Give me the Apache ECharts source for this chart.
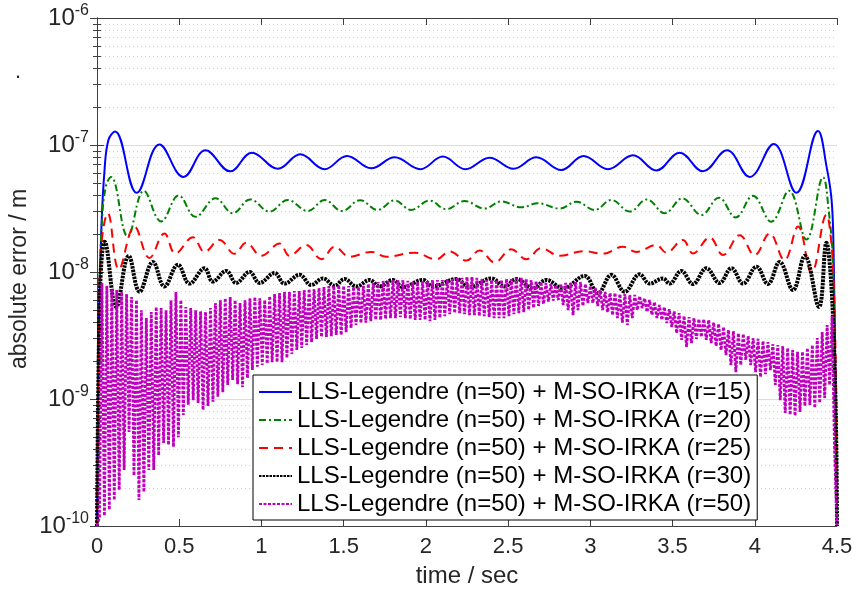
<!DOCTYPE html>
<html><head><meta charset="utf-8">
<script src="https://cdn.jsdelivr.net/npm/echarts@6/dist/echarts.min.js"></script>
<style>html,body{margin:0;padding:0;background:#fff}#c{width:856px;height:592px}</style>
</head><body><div id="c"></div>
<script>
const F = "'Liberation Sans', Arial, Helvetica, sans-serif";
const seriesNames = [
  'LLS-Legendre (n=50) + M-SO-IRKA (r=15)',
  'LLS-Legendre (n=50) + M-SO-IRKA (r=20)',
  'LLS-Legendre (n=50) + M-SO-IRKA (r=25)',
  'LLS-Legendre (n=50) + M-SO-IRKA (r=30)',
  'LLS-Legendre (n=50) + M-SO-IRKA (r=50)'
];
const xMin = 0, xMax = 4.5, xStep = 0.5;
const yMin = 1e-10, yMax = 1e-6;

const blueData = [[0,1e-10],[0.01,3e-9],[0.026,2.1e-8],[0.046,6.4e-8],[0.07,1.1e-7],[0.11,1.28e-7],
  [0.242,4.2e-8],[0.38,1.01e-7],[0.526,5.6e-8],[0.66,9.1e-8],[0.81,6.2e-8],[0.942,8.7e-8],[1.10,6.5e-8],
  [1.236,8.45e-8],[1.384,6.45e-8],[1.52,8.2e-8],[1.668,6.55e-8],[1.81,8.0e-8],[1.966,6.45e-8],[2.103,8.1e-8],
  [2.24,6.45e-8],[2.387,7.95e-8],[2.533,6.5e-8],[2.672,8.0e-8],[2.823,6.35e-8],[2.959,8.2e-8],[3.107,6.45e-8],
  [3.259,8.3e-8],[3.401,6.3e-8],[3.543,8.7e-8],[3.685,6.2e-8],[3.831,9.1e-8],[3.969,5.6e-8],[4.115,1.02e-7],
  [4.253,4.2e-8],[4.384,1.29e-7],[4.437,6.7e-8],[4.467,3.7e-8],[4.479,1.5e-8],[4.49,1.5e-9],[4.5,1e-10]];

const greenData = [[0,1e-10],[0.012,5e-9],[0.03,2.5e-8],[0.055,4.8e-8],[0.086,5.6e-8],[0.187,1.9e-8],
  [0.285,4.35e-8],[0.39,2.5e-8],[0.497,4.0e-8],[0.599,2.72e-8],[0.721,3.8e-8],[0.826,2.9e-8],[0.932,3.73e-8],
  [1.049,2.99e-8],[1.16,3.69e-8],[1.282,3.02e-8],[1.384,3.69e-8],[1.49,3.02e-8],[1.60,3.68e-8],[1.705,3.08e-8],
  [1.81,3.66e-8],[1.91,3.08e-8],[2.022,3.65e-8],[2.124,3.12e-8],[2.235,3.62e-8],[2.357,3.16e-8],[2.459,3.6e-8],
  [2.58,3.23e-8],[2.681,3.48e-8],[2.813,3.16e-8],[2.915,3.58e-8],[3.026,3.08e-8],[3.128,3.69e-8],[3.239,2.99e-8],
  [3.344,3.73e-8],[3.452,2.9e-8],[3.56,3.8e-8],[3.675,2.81e-8],[3.782,3.85e-8],[3.884,2.69e-8],[3.989,3.98e-8],
  [4.10,2.49e-8],[4.208,4.37e-8],[4.314,1.8e-8],[4.415,5.57e-8],[4.45,3.0e-8],[4.475,1.2e-8],[4.49,1e-9],[4.5,1e-10]];

const redData = [[0,1e-10],[0.012,4e-9],[0.03,1.8e-8],[0.066,2.9e-8],[0.133,1.05e-8],[0.228,2.28e-8],
  [0.319,1.29e-8],[0.41,2.01e-8],[0.477,1.4e-8],[0.583,1.88e-8],[0.654,1.44e-8],[0.745,1.79e-8],[0.836,1.39e-8],
  [0.907,1.7e-8],[0.999,1.34e-8],[1.11,1.68e-8],[1.171,1.34e-8],[1.272,1.63e-8],[1.364,1.26e-8],[1.445,1.58e-8],
  [1.536,1.32e-8],[1.668,1.44e-8],[1.76,1.32e-8],[1.93,1.42e-8],[2.063,1.26e-8],[2.144,1.45e-8],[2.246,1.23e-8],
  [2.327,1.48e-8],[2.418,1.19e-8],[2.519,1.51e-8],[2.611,1.26e-8],[2.702,1.54e-8],[2.813,1.34e-8],[2.96,1.46e-8],
  [3.077,1.39e-8],[3.198,1.58e-8],[3.28,1.44e-8],[3.401,1.63e-8],[3.462,1.42e-8],[3.563,1.79e-8],[3.624,1.4e-8],
  [3.726,1.87e-8],[3.807,1.36e-8],[3.908,1.95e-8],[3.999,1.36e-8],[4.09,2.01e-8],[4.18,1.24e-8],[4.263,2.28e-8],
  [4.345,9.8e-9],[4.436,2.82e-8],[4.46,2.0e-8],[4.48,8e-9],[4.495,1e-9],[4.5,1e-10]];

const blackData = [[0,1e-10],[0.012,3e-9],[0.025,1.1e-8],[0.046,1.73e-8],[0.117,5.3e-9],[0.193,1.34e-8],
  [0.259,7.0e-9],[0.34,1.2e-8],[0.41,7.7e-9],[0.492,1.14e-8],[0.563,8.1e-9],[0.654,1.07e-8],[0.704,8.4e-9],
  [0.786,1.02e-8],[0.847,8.2e-9],[0.928,1.0e-8],[0.988,8.2e-9],[1.08,9.8e-9],[1.14,8.1e-9],[1.232,9.5e-9],
  [1.303,7.9e-9],[1.374,8.9e-9],[1.445,7.8e-9],[1.505,8.8e-9],[1.577,7.7e-9],[1.658,8.65e-9],[1.718,7.7e-9],
  [1.80,8.65e-9],[1.86,7.6e-9],[1.982,8.65e-9],[2.043,7.7e-9],[2.185,8.8e-9],[2.266,7.6e-9],[2.398,8.9e-9],
  [2.479,7.7e-9],[2.55,8.8e-9],[2.651,7.45e-9],[2.732,8.65e-9],[2.833,7.45e-9],[2.965,9.3e-9],[3.046,6.8e-9],
  [3.128,9.5e-9],[3.209,7.0e-9],[3.30,9.6e-9],[3.361,8.1e-9],[3.442,8.9e-9],[3.482,8.1e-9],[3.553,1.02e-8],
  [3.624,8.05e-9],[3.706,1.07e-8],[3.786,8.2e-9],[3.858,1.07e-8],[3.929,8.1e-9],[4.01,1.1e-8],[4.08,8.05e-9],
  [4.151,1.2e-8],[4.232,7.2e-9],[4.304,1.34e-8],[4.39,5.3e-9],[4.436,1.7e-8],[4.46,1.0e-8],[4.48,3e-9],
  [4.495,5e-10],[4.5,1e-10]];

const magentaTimes = [
  0,0.015,0.03,0.045,0.06,0.075,0.09,0.105,0.12,0.135,
  0.15,0.165,0.18,0.195,0.21,0.225,0.24,0.255,0.27,0.285,
  0.3,0.315,0.33,0.345,0.36,0.375,0.39,0.405,0.42,0.435,
  0.45,0.465,0.48,0.495,0.51,0.525,0.54,0.555,0.57,0.585,
  0.6,0.615,0.63,0.645,0.66,0.675,0.69,0.705,0.72,0.735,
  0.75,0.765,0.78,0.795,0.81,0.825,0.84,0.855,0.87,0.885,
  0.9,0.915,0.93,0.945,0.96,0.975,0.99,1.005,1.02,1.035,
  1.05,1.065,1.08,1.095,1.11,1.125,1.14,1.155,1.17,1.185,
  1.2,1.215,1.23,1.245,1.26,1.275,1.29,1.305,1.32,1.335,
  1.35,1.365,1.38,1.395,1.41,1.425,1.44,1.455,1.47,1.485,
  1.5,1.515,1.53,1.545,1.56,1.575,1.59,1.605,1.62,1.635,
  1.65,1.665,1.68,1.695,1.71,1.725,1.74,1.755,1.77,1.785,
  1.8,1.815,1.83,1.845,1.86,1.875,1.89,1.905,1.92,1.935,
  1.95,1.965,1.98,1.995,2.01,2.025,2.04,2.055,2.07,2.085,
  2.1,2.115,2.13,2.145,2.16,2.175,2.19,2.205,2.22,2.235,
  2.25,2.265,2.28,2.295,2.31,2.325,2.34,2.355,2.37,2.385,
  2.4,2.415,2.43,2.445,2.46,2.475,2.49,2.505,2.52,2.535,
  2.55,2.565,2.58,2.595,2.61,2.625,2.64,2.655,2.67,2.685,
  2.7,2.715,2.73,2.745,2.76,2.775,2.79,2.805,2.82,2.835,
  2.85,2.865,2.88,2.895,2.91,2.925,2.94,2.955,2.97,2.985,
  3,3.015,3.03,3.045,3.06,3.075,3.09,3.105,3.12,3.135,
  3.15,3.165,3.18,3.195,3.21,3.225,3.24,3.255,3.27,3.285,
  3.3,3.315,3.33,3.345,3.36,3.375,3.39,3.405,3.42,3.435,
  3.45,3.465,3.48,3.495,3.51,3.525,3.54,3.555,3.57,3.585,
  3.6,3.615,3.63,3.645,3.66,3.675,3.69,3.705,3.72,3.735,
  3.75,3.765,3.78,3.795,3.81,3.825,3.84,3.855,3.87,3.885,
  3.9,3.915,3.93,3.945,3.96,3.975,3.99,4.005,4.02,4.035,
  4.05,4.065,4.08,4.095,4.11,4.125,4.14,4.155,4.17,4.185,
  4.2,4.215,4.23,4.245,4.26,4.275,4.29,4.305,4.32,4.335,
  4.35,4.365,4.38,4.395,4.41,4.425,4.44,4.455,4.47,4.485,
  4.5];
const magentaValues = [
  1e-10,1.18e-10,8.2e-9,1.2e-10,7.8e-9,1.34e-10,7.35e-9,1.6e-10,7.2e-9,1.92e-10,
  6.96e-9,2.76e-10,6.7e-9,5.5e-10,6.35e-9,2.5e-10,6.0e-9,1.6e-10,5.0e-9,1.85e-10,
  4.34e-9,2.76e-10,4.84e-9,2.76e-10,5.3e-9,3.6e-10,5.2e-9,4.5e-10,5.0e-9,4.35e-10,
  6.0e-9,4.2e-10,6.96e-9,5.0e-10,6.0e-9,7.5e-10,5.3e-9,9.0e-10,5.2e-9,9.8e-10,
  5.0e-9,9.3e-10,4.9e-9,8.2e-10,4.84e-9,8.8e-10,5.2e-9,9.5e-10,5.7e-9,1.04e-9,
  6.0e-9,1.13e-9,6.2e-9,1.29e-9,6.35e-9,1.41e-9,6.0e-9,1.31e-9,5.7e-9,1.24e-9,
  6.0e-9,1.46e-9,6.2e-9,1.69e-9,6.35e-9,1.8e-9,6.2e-9,1.85e-9,6.0e-9,1.9e-9,
  6.45e-9,1.95e-9,6.7e-9,1.95e-9,6.84e-9,1.95e-9,6.96e-9,2.1e-9,6.96e-9,2.26e-9,
  7.08e-9,2.43e-9,7.08e-9,2.52e-9,7.2e-9,2.66e-9,7.35e-9,2.8e-9,7.35e-9,2.97e-9,
  7.48e-9,3.08e-9,7.62e-9,3.08e-9,7.76e-9,3.13e-9,7.76e-9,3.19e-9,7.9e-9,3.19e-9,
  7.76e-9,3.36e-9,7.76e-9,3.62e-9,7.62e-9,3.83e-9,7.62e-9,3.96e-9,7.76e-9,4.0e-9,
  8.05e-9,4.1e-9,8.2e-9,4.19e-9,8.34e-9,4.19e-9,8.5e-9,4.26e-9,8.5e-9,4.34e-9,
  8.65e-9,4.34e-9,8.65e-9,4.42e-9,8.65e-9,4.34e-9,8.5e-9,4.26e-9,8.34e-9,4.19e-9,
  8.34e-9,4.19e-9,8.5e-9,4.19e-9,8.5e-9,4.1e-9,8.65e-9,4.19e-9,8.65e-9,4.34e-9,
  8.65e-9,4.5e-9,8.8e-9,4.65e-9,8.8e-9,4.75e-9,8.98e-9,4.75e-9,8.98e-9,4.65e-9,
  9.14e-9,4.58e-9,9.14e-9,4.58e-9,8.98e-9,4.5e-9,8.8e-9,4.5e-9,8.65e-9,4.42e-9,
  8.65e-9,4.34e-9,8.65e-9,4.34e-9,8.65e-9,4.34e-9,8.8e-9,4.5e-9,8.8e-9,4.65e-9,
  8.98e-9,4.75e-9,8.98e-9,4.84e-9,8.8e-9,5.02e-9,8.65e-9,5.2e-9,8.5e-9,5.4e-9,
  8.34e-9,5.6e-9,8.2e-9,5.85e-9,8.05e-9,5.95e-9,7.9e-9,6.02e-9,8.05e-9,5.5e-9,
  8.2e-9,5.02e-9,8.2e-9,4.58e-9,8.34e-9,5.02e-9,8.34e-9,5.4e-9,8.05e-9,5.7e-9,
  7.76e-9,5.7e-9,7.48e-9,5.4e-9,7.2e-9,5.02e-9,6.96e-9,4.84e-9,6.84e-9,4.58e-9,
  6.84e-9,4.34e-9,6.7e-9,4.0e-9,6.7e-9,3.83e-9,6.59e-9,4.34e-9,6.59e-9,5.02e-9,
  6.45e-9,5.2e-9,6.2e-9,4.84e-9,6.02e-9,4.58e-9,5.8e-9,4.34e-9,5.5e-9,4.19e-9,
  5.3e-9,3.96e-9,5.1e-9,3.69e-9,4.9e-9,3.3e-9,4.75e-9,2.92e-9,4.5e-9,2.57e-9,
  4.42e-9,2.76e-9,4.34e-9,2.97e-9,4.26e-9,3.08e-9,4.26e-9,2.92e-9,4.19e-9,2.76e-9,
  4.0e-9,2.61e-9,3.9e-9,2.43e-9,3.69e-9,2.22e-9,3.49e-9,1.85e-9,3.42e-9,1.63e-9,
  3.3e-9,1.85e-9,3.25e-9,2.03e-9,3.13e-9,1.85e-9,3.02e-9,1.63e-9,2.97e-9,1.49e-9,
  2.86e-9,1.57e-9,2.8e-9,1.69e-9,2.7e-9,1.29e-9,2.66e-9,9.8e-10,2.61e-9,7.76e-10,
  2.52e-9,7.5e-10,2.43e-9,7.35e-10,2.35e-9,7.9e-10,2.35e-9,8.8e-10,2.52e-9,8.97e-10,
  2.66e-9,8.5e-10,3.02e-9,9.3e-10,3.36e-9,1.02e-9,3.83e-9,1.29e-9,4.5e-9,4.0e-10,
  1e-10];
const magentaData = magentaTimes.map((t, i) => [t, magentaValues[i]]);

const AX = '#404040';
function axisBase(extra) { return Object.assign({ axisLine:{show:true,lineStyle:{color:AX,width:1}}, axisTick:{show:true,inside:true,length:7,lineStyle:{color:AX}}, splitLine:{show:false} }, extra); }

function mk(name, data, color, width, type, smooth) {
  return { name, type:'line', data, symbol:'none', smooth: smooth, lineStyle:{color, width, type}, itemStyle:{color}, animation:false, clip:true };
}

const chart = echarts.init(document.getElementById('c'), null, {renderer:'canvas'});
chart.setOption({
  animation:false,
  backgroundColor:'#fff',
  grid:{left:97, right:19, top:18, bottom:66},
  xAxis:[
    axisBase({type:'value', min:xMin, max:xMax, interval:xStep, position:'bottom',
      axisLabel:{fontSize:22, fontFamily:F, color:'#262626', margin:10}}),
    axisBase({type:'value', min:xMin, max:xMax, interval:xStep, position:'top', axisLabel:{show:false}})
  ],
  yAxis:[
    axisBase({type:'log', logBase:10, min:yMin, max:yMax, position:'left',
      minorTick:{show:true, splitNumber:9, length:4, lineStyle:{color:AX}},
      splitLine:{show:true, lineStyle:{color:'#dcdcdc', width:1}},
      minorSplitLine:{show:true, lineStyle:{color:'#cfcfcf', width:1, type:[1,3]}},
      axisLabel:{fontFamily:F, color:'#262626', margin:8,
        formatter: v => '{b|10}{s|' + Math.round(Math.log10(v)) + '}',
        rich:{ b:{fontSize:24, fontFamily:F, color:'#262626'}, s:{fontSize:16, fontFamily:F, color:'#262626', verticalAlign:'top', padding:[0,0,14,0]} }}}),
    axisBase({type:'log', logBase:10, min:yMin, max:yMax, position:'right',
      minorTick:{show:true, splitNumber:9, length:4, lineStyle:{color:AX}}, axisLabel:{show:false}})
  ],
  legend:{ orient:'vertical', left:253, top:375, itemWidth:33, itemHeight:2, itemGap:4, padding:[5,6,4,5],
    borderColor:'#000', borderWidth:1, backgroundColor:'#fff', borderRadius:0,
    itemStyle:{opacity:0},
    textStyle:{fontSize:24, fontFamily:F, color:'#000', lineHeight:23}, data: seriesNames },
  graphic:[
    {type:'text', x:20, y:279, rotation:Math.PI/2, style:{text:'absolute error / m', font:'23px '+F, fill:'#262626', align:'center', verticalAlign:'middle'}},
    {type:'text', x:467, y:576, style:{text:'time / sec', font:'24px '+F, fill:'#262626', align:'center', verticalAlign:'middle'}},
    {type:'text', x:18, y:72, style:{text:'.', font:'22px '+F, fill:'#262626', align:'center', verticalAlign:'middle'}}
  ],
  series:[
    mk(seriesNames[0], blueData, '#0000ff', 2, 'solid', 0.4),
    mk(seriesNames[1], greenData, '#008000', 2, [7,3,2,3], 0.4),
    mk(seriesNames[2], redData, '#ff0000', 2, [9,6], 0.4),
    mk(seriesNames[3], blackData, '#000000', 4, [2.5,1], 0.4),
    mk(seriesNames[4], magentaData, '#bf00bf', 2.8, [3,1.5], false)
  ]
});
</script></body></html>
